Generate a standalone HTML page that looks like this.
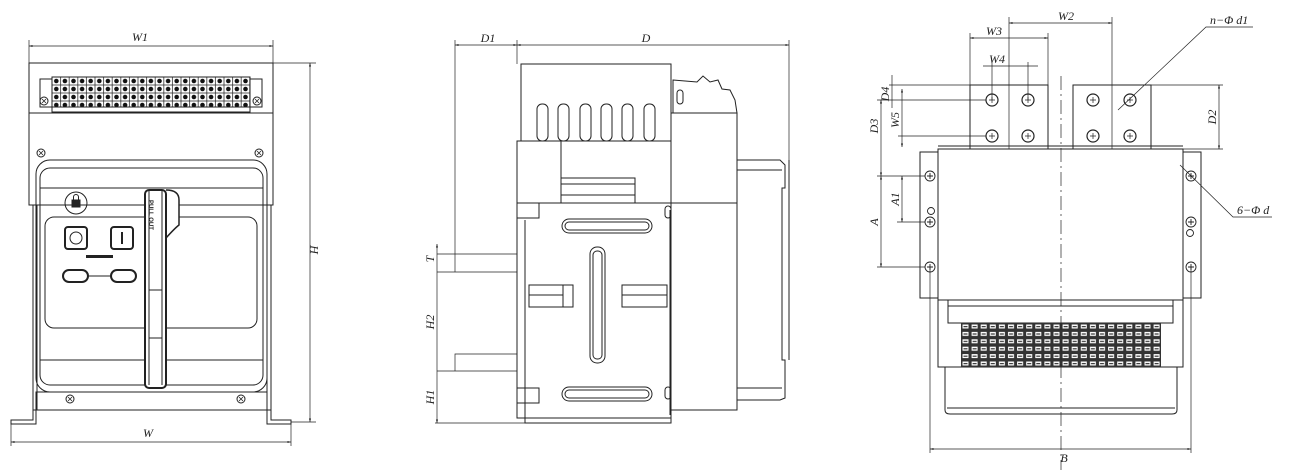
<!DOCTYPE html>
<html><head><meta charset="utf-8"><style>
html,body{margin:0;padding:0;background:#fff;}
svg{display:block}
text{font-family:"Liberation Serif",serif;font-style:italic;font-size:12px;fill:#222}
</style></head><body>
<svg width="1291" height="476" viewBox="0 0 1291 476" xmlns="http://www.w3.org/2000/svg">
<defs>
<pattern id="ft" x="52" y="77" width="8.6" height="8" patternUnits="userSpaceOnUse">
<rect x="0" y="0" width="8.6" height="8" fill="#fff" stroke="#333" stroke-width="0.8"/>
<circle cx="4.3" cy="4" r="2.3" fill="#111"/>
</pattern>
<pattern id="rt" x="961" y="323" width="9.1" height="7.4" patternUnits="userSpaceOnUse">
<rect x="0" y="0" width="9.1" height="7.4" fill="#333"/>
<rect x="1.5" y="1.5" width="6" height="4" fill="#fff"/>
<rect x="2.5" y="3" width="4" height="1.2" fill="#333"/>
</pattern>
<marker id="a" viewBox="0 0 10 10" refX="10" refY="5" markerWidth="7" markerHeight="5" orient="auto-start-reverse"><path d="M0,2 L10,5 L0,8 z" fill="#222"/></marker>
</defs>
<g fill="none" stroke="#222" stroke-width="1">
<!-- FRONT VIEW -->
<line x1="29" y1="46" x2="273" y2="46" marker-start="url(#a)" marker-end="url(#a)" stroke-width="0.7"/>
<line x1="29" y1="40" x2="29" y2="63" stroke-width="0.7"/><line x1="273" y1="40" x2="273" y2="63" stroke-width="0.7"/>
<rect x="29" y="63" width="244" height="142"/>
<line x1="29" y1="113" x2="273" y2="113"/>
<rect x="40" y="79" width="222" height="28"/>
<rect x="52" y="77" width="198" height="30" fill="url(#ft)"/>
<rect x="52" y="107" width="198" height="5"/>
<g>
<circle cx="44" cy="101" r="4"/><circle cx="257" cy="101" r="4"/>
<circle cx="41" cy="153" r="4"/><circle cx="259" cy="153" r="4"/>
<circle cx="70" cy="399" r="4"/><circle cx="241" cy="399" r="4"/>
<path stroke-width="0.8" d="M42,99l4,4M46,99l-4,4M255,99l4,4M259,99l-4,4M39,151l4,4M43,151l-4,4M257,151l4,4M261,151l-4,4M68,397l4,4M72,397l-4,4M239,397l4,4M243,397l-4,4"/>
</g>
<rect x="33" y="205" width="4" height="205"/><rect x="267" y="205" width="4" height="205"/>
<rect x="36" y="160" width="231" height="232" rx="14"/>
<rect x="40" y="168" width="223" height="217" rx="10"/>
<line x1="40" y1="188" x2="263" y2="188"/>
<line x1="40" y1="360" x2="263" y2="360"/>
<rect x="36" y="392" width="231" height="18"/>
<path d="M33,410 L33,420 L11,420 L11,424 L36,424 L36,410"/>
<path d="M271,410 L271,420 L291,420 L291,424 L267,424 L267,410"/>
<circle cx="76" cy="203" r="11"/>
<rect x="72" y="200" width="8" height="7" fill="#222"/><path d="M73.5,200 v-3 a2.5,2.5 0 0 1 5,0 v3"/>
<rect x="45" y="217" width="212" height="111" rx="9"/>
<rect x="65" y="227" width="22" height="22" rx="3" stroke-width="2"/><circle cx="76" cy="238" r="6"/>
<rect x="111" y="227" width="22" height="22" rx="3" stroke-width="2"/><line x1="122" y1="232" x2="122" y2="244" stroke-width="2"/>
<rect x="63" y="270" width="25" height="12" rx="6" stroke-width="2"/><rect x="111" y="270" width="25" height="12" rx="6" stroke-width="2"/>
<line x1="88" y1="276" x2="111" y2="276"/>
<rect x="86" y="255" width="27" height="3" fill="#222" stroke="none"/>
<path d="M166,190 Q179,190 179,200 L179,225 Q175,228 166,238" fill="#fff" stroke-width="1.5"/>
<rect x="145" y="190" width="21" height="198" rx="4" fill="#fff" stroke-width="2"/>
<line x1="149" y1="190" x2="149" y2="385"/><line x1="162" y1="190" x2="162" y2="385"/>
<line x1="149" y1="290" x2="162" y2="290"/><line x1="149" y1="338" x2="162" y2="338"/>
<line x1="11" y1="442" x2="291" y2="442" marker-start="url(#a)" marker-end="url(#a)" stroke-width="0.7"/>
<line x1="11" y1="420" x2="11" y2="446" stroke-width="0.7"/><line x1="291" y1="420" x2="291" y2="446" stroke-width="0.7"/>
<line x1="310" y1="63" x2="310" y2="422" marker-start="url(#a)" marker-end="url(#a)" stroke-width="0.7"/>
<line x1="273" y1="63" x2="316" y2="63" stroke-width="0.7"/><line x1="291" y1="422" x2="316" y2="422" stroke-width="0.7"/>

<!-- SIDE VIEW -->
<line x1="455" y1="45" x2="517" y2="45" marker-start="url(#a)" marker-end="url(#a)" stroke-width="0.7"/>
<line x1="517" y1="45" x2="789" y2="45" marker-start="url(#a)" marker-end="url(#a)" stroke-width="0.7"/>
<line x1="455" y1="40" x2="455" y2="272" stroke-width="0.7"/>
<line x1="517" y1="40" x2="517" y2="64" stroke-width="0.7"/>
<line x1="789" y1="40" x2="789" y2="185" stroke-width="0.7"/>
<rect x="521" y="64" width="150" height="77"/>
<g><rect x="537" y="104" width="11" height="37" rx="5"/><rect x="558" y="104" width="11" height="37" rx="5"/><rect x="580" y="104" width="11" height="37" rx="5"/><rect x="601" y="104" width="11" height="37" rx="5"/><rect x="622" y="104" width="11" height="37" rx="5"/><rect x="644" y="104" width="11" height="37" rx="5"/></g>
<rect x="517" y="141" width="154" height="62"/>
<line x1="561" y1="141" x2="561" y2="203"/>
<rect x="561" y="178" width="74" height="25"/><line x1="561" y1="184" x2="635" y2="184"/><line x1="561" y1="195" x2="635" y2="195"/>
<rect x="671" y="113" width="66" height="90"/>
<path d="M673,80 L697,82 L703,76 L710,82 L718,80 L722,89 L730,90 L735,100 L737,113 L673,113 Z"/>
<rect x="677" y="90" width="6" height="14" rx="3"/>
<path d="M737,160 L780,160 L785,165 L785,188 L782,188 L782,360 L785,360 L785,398 L780,400 L737,400"/>
<line x1="737" y1="170" x2="782" y2="170"/><line x1="737" y1="388" x2="782" y2="388"/>
<line x1="789" y1="160" x2="789" y2="360"/>
<rect x="517" y="203" width="154" height="215"/>
<line x1="525" y1="220" x2="525" y2="418"/>
<rect x="671" y="203" width="66" height="207"/>
<line x1="670" y1="210" x2="670" y2="415"/>
<rect x="525" y="418" width="146" height="5"/>
<rect x="517" y="203" width="22" height="15"/><rect x="517" y="388" width="22" height="15"/>
<rect x="665" y="206" width="6" height="12" rx="3"/><rect x="665" y="387" width="6" height="12" rx="3"/>
<rect x="562" y="219" width="90" height="14" rx="7"/><rect x="565" y="222" width="84" height="8" rx="4"/>
<rect x="562" y="387" width="90" height="14" rx="7"/><rect x="565" y="390" width="84" height="8" rx="4"/>
<rect x="590" y="247" width="15" height="116" rx="7"/><rect x="593" y="251" width="9" height="108" rx="4"/>
<rect x="529" y="285" width="44" height="22"/><line x1="529" y1="295" x2="563" y2="295"/><line x1="563" y1="285" x2="563" y2="307"/>
<rect x="622" y="285" width="45" height="22"/><line x1="622" y1="295" x2="667" y2="295"/>
<line x1="437" y1="244" x2="437" y2="423" marker-start="url(#a)" marker-end="url(#a)" stroke-width="0.7"/>
<line x1="437" y1="254" x2="517" y2="254" stroke-width="0.7"/>
<line x1="437" y1="272" x2="517" y2="272" stroke-width="0.7"/>
<line x1="437" y1="371" x2="517" y2="371" stroke-width="0.7"/>
<path d="M455,371 L455,354 L517,354" stroke-width="0.7"/>
<line x1="435" y1="423" x2="525" y2="423" stroke-width="0.7"/>

<!-- REAR VIEW -->
<rect x="970" y="85" width="78" height="64"/>
<rect x="1073" y="85" width="78" height="64"/>
<g stroke-width="1.2">
<circle cx="992" cy="100" r="6"/><circle cx="1028" cy="100" r="6"/><circle cx="992" cy="136" r="6"/><circle cx="1028" cy="136" r="6"/>
<circle cx="1093" cy="100" r="6"/><circle cx="1130" cy="100" r="6"/><circle cx="1093" cy="136" r="6"/><circle cx="1130" cy="136" r="6"/>
</g>
<g stroke-width="0.7">
<path d="M989,100h6M992,97v6M1025,100h6M1028,97v6M989,136h6M992,133v6M1025,136h6M1028,133v6M1090,100h6M1093,97v6M1127,100h6M1130,97v6M1090,136h6M1093,133v6M1127,136h6M1130,133v6"/>
</g>
<line x1="1009" y1="17" x2="1009" y2="168" stroke-width="0.7"/>
<line x1="1112" y1="17" x2="1112" y2="168" stroke-width="0.7"/>
<line x1="1009" y1="23" x2="1112" y2="23" marker-start="url(#a)" marker-end="url(#a)" stroke-width="0.7"/>
<line x1="970" y1="33" x2="970" y2="85" stroke-width="0.7"/><line x1="1048" y1="33" x2="1048" y2="85" stroke-width="0.7"/>
<line x1="970" y1="38" x2="1048" y2="38" marker-start="url(#a)" marker-end="url(#a)" stroke-width="0.7"/>
<line x1="983" y1="66" x2="1038" y2="66" stroke-width="0.7"/>
<line x1="992" y1="62" x2="992" y2="100" stroke-width="0.7"/><line x1="1028" y1="62" x2="1028" y2="100" stroke-width="0.7"/>
<line x1="889" y1="85" x2="970" y2="85" stroke-width="0.7"/>
<line x1="877" y1="100" x2="986" y2="100" stroke-width="0.7"/>
<line x1="898" y1="136" x2="986" y2="136" stroke-width="0.7"/>
<line x1="892" y1="75" x2="892" y2="108" stroke-width="0.7"/>
<line x1="902" y1="89" x2="902" y2="147" marker-start="url(#a)" marker-end="url(#a)" stroke-width="0.7"/>
<line x1="881" y1="100" x2="881" y2="176" marker-start="url(#a)" marker-end="url(#a)" stroke-width="0.7"/>
<line x1="1151" y1="85" x2="1223" y2="85" stroke-width="0.7"/>
<line x1="1183" y1="149" x2="1223" y2="149" stroke-width="0.7"/>
<line x1="1219" y1="85" x2="1219" y2="149" marker-start="url(#a)" marker-end="url(#a)" stroke-width="0.7"/>
<rect x="920" y="152" width="281" height="146"/>
<rect x="938" y="149" width="245" height="151" fill="#fff"/>
<line x1="938" y1="146" x2="1183" y2="146"/>
<g stroke-width="0.9">
<circle cx="930" cy="176" r="5"/><circle cx="930" cy="222" r="5"/><circle cx="930" cy="267" r="5"/>
<circle cx="1191" cy="176" r="5"/><circle cx="1191" cy="222" r="5"/><circle cx="1191" cy="267" r="5"/>
<path d="M927,176h6M930,173v6M927,222h6M930,219v6M927,267h6M930,264v6M1188,176h6M1191,173v6M1188,222h6M1191,219v6M1188,267h6M1191,264v6"/>
<circle cx="931" cy="211" r="3.5"/><circle cx="1190" cy="233" r="3.5"/>
</g>
<rect x="938" y="300" width="245" height="67"/>
<rect x="948" y="300" width="225" height="23"/>
<line x1="948" y1="306" x2="1173" y2="306"/>
<rect x="961" y="323" width="200" height="44" fill="url(#rt)" stroke="none"/>
<path d="M945,367 L945,410 Q945,414 950,414 L1172,414 Q1177,414 1177,410 L1177,367"/>
<line x1="947" y1="408" x2="1175" y2="408"/>
<line x1="1061" y1="76" x2="1061" y2="470" stroke-width="0.7" stroke-dasharray="14,4,2,4"/>
<line x1="930" y1="267" x2="930" y2="453" stroke-width="0.7"/>
<line x1="1191" y1="267" x2="1191" y2="453" stroke-width="0.7"/>
<line x1="930" y1="449" x2="1191" y2="449" marker-start="url(#a)" marker-end="url(#a)" stroke-width="0.7"/>
<line x1="877" y1="176" x2="925" y2="176" stroke-width="0.7"/>
<line x1="897" y1="222" x2="925" y2="222" stroke-width="0.7"/>
<line x1="877" y1="267" x2="925" y2="267" stroke-width="0.7"/>
<line x1="881" y1="176" x2="881" y2="267" marker-start="url(#a)" marker-end="url(#a)" stroke-width="0.7"/>
<line x1="902" y1="176" x2="902" y2="222" marker-start="url(#a)" marker-end="url(#a)" stroke-width="0.7"/>
<path d="M1118,110 L1206,27 L1253,27" stroke-width="0.7"/>
<path d="M1180,165 L1233,217 L1272,217" stroke-width="0.7"/>
</g>
<text x="140" y="41" text-anchor="middle">W1</text>
<text x="148" y="437" text-anchor="middle">W</text>
<text x="318" y="250" transform="rotate(-90 318 250)" text-anchor="middle">H</text>
<text x="160" y="195" transform="rotate(90 152 192)" style="font-family:'Liberation Sans',sans-serif;font-style:normal;font-weight:bold;font-size:6px">PULL OUT</text>
<text x="488" y="42" text-anchor="middle">D1</text>
<text x="646" y="42" text-anchor="middle">D</text>
<text x="434" y="259" transform="rotate(-90 434 259)" text-anchor="middle">T</text>
<text x="434" y="322" transform="rotate(-90 434 322)" text-anchor="middle">H2</text>
<text x="434" y="397" transform="rotate(-90 434 397)" text-anchor="middle">H1</text>
<text x="1066" y="20" text-anchor="middle">W2</text>
<text x="994" y="35" text-anchor="middle">W3</text>
<text x="997" y="63" text-anchor="middle">W4</text>
<text x="889" y="94" transform="rotate(-90 889 94)" text-anchor="middle">D4</text>
<text x="878" y="126" transform="rotate(-90 878 126)" text-anchor="middle">D3</text>
<text x="899" y="120" transform="rotate(-90 899 120)" text-anchor="middle">W5</text>
<text x="1216" y="117" transform="rotate(-90 1216 117)" text-anchor="middle">D2</text>
<text x="878" y="222" transform="rotate(-90 878 222)" text-anchor="middle">A</text>
<text x="899" y="199" transform="rotate(-90 899 199)" text-anchor="middle">A1</text>
<text x="1064" y="462" text-anchor="middle">B</text>
<text x="1210" y="24">n−Φ d1</text>
<text x="1237" y="214">6−Φ d</text>
</svg>
</body></html>
